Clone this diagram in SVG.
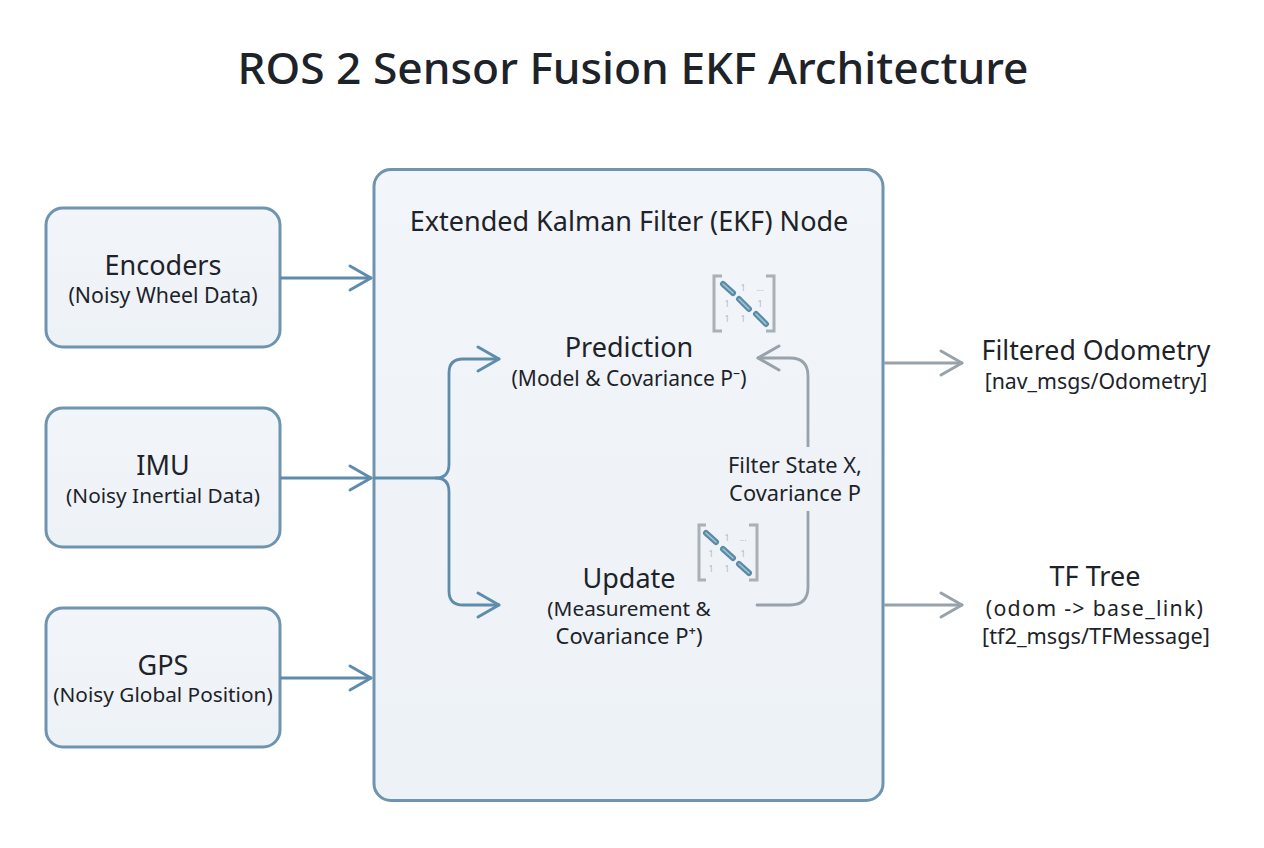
<svg xmlns="http://www.w3.org/2000/svg" width="1264" height="848" viewBox="0 0 1264 848">
<defs>
<marker id="ah" markerUnits="userSpaceOnUse" markerWidth="30" markerHeight="30" refX="23" refY="13" orient="auto" overflow="visible"><path d="M2 1 L23 13 L2 25" fill="none" stroke="context-stroke" stroke-width="3" stroke-linecap="round" stroke-linejoin="round"/></marker>
<linearGradient id="bg" x1="0" y1="0" x2="0" y2="1"><stop offset="0" stop-color="#f2f5f9"/><stop offset="1" stop-color="#edf2f7"/></linearGradient>
</defs>
<style>
text{font-family:"Noto Sans","Open Sans","Liberation Sans",sans-serif;fill:#1d2329;text-anchor:middle}
.t{font-size:27px}.s{font-size:20.8px}
.box{fill:url(#bg);stroke:#6f94af;stroke-width:3}
.b{fill:none;stroke:#5f8cab;stroke-width:2.800;stroke-linecap:round}
.g{fill:none;stroke:#98a2aa;stroke-width:2.800;stroke-linecap:round}
.br{fill:none;stroke:#a9b0b6;stroke-width:3}
.d{stroke:#5a8ca8;stroke-width:6;stroke-linecap:round}
.d2{fill:none;stroke:#a8c6d6;stroke-width:1.500;stroke-linecap:round}
.m{font-size:9px;fill:#b4bbc1}
</style>
<rect width="1264" height="848" fill="#ffffff"/>
<text x="633" y="84" font-size="44.300" font-weight="500" id="title">ROS 2 Sensor Fusion EKF Architecture</text>
<g id="ekf"><rect class="box" x="374" y="169.500" width="509" height="631" rx="17"/>
<text x="629" y="231" font-size="27">Extended Kalman Filter (EKF) Node</text></g>
<g id="encoders"><rect class="box" x="46" y="208" width="234" height="139" rx="17"/><text class="t" x="163" y="275">Encoders</text><text class="s" x="163" y="303" style="font-size:21.300px">(Noisy Wheel Data)</text></g>
<g id="imu"><rect class="box" x="46" y="408" width="234" height="139" rx="17"/><text class="t" x="163" y="475">IMU</text><text class="s" x="163" y="503">(Noisy Inertial Data)</text></g>
<g id="gps"><rect class="box" x="46" y="608" width="234" height="139" rx="17"/><text class="t" x="163" y="675">GPS</text><text class="s" x="163" y="702">(Noisy Global Position)</text></g>
<g id="prediction"><text class="t" x="629" y="357">Prediction</text><text class="s" x="629" y="386" style="font-size:21px">(Model &amp; Covariance P⁻)</text>
<path class="br" d="M722 276H714V331H722M766 276H774V331H766"/>
<path class="d" d="M723 284L733 293M739 299L749 309M756 314L766 324"/>
<path class="d2" d="M723 284L733 293M739 299L749 309M756 314L766 324"/>
<text class="m" x="743" y="291">1</text><text class="m" x="760" y="291">...</text><text class="m" x="727" y="307">1</text><text class="m" x="760" y="307">1</text><text class="m" x="727" y="322">1</text><text class="m" x="743" y="322">1</text></g>
<g id="update"><text class="t" x="629" y="588">Update</text><text class="s" x="629" y="616">(Measurement &amp;</text><text class="s" x="629" y="644" style="font-size:22px">Covariance P⁺)</text>
<path class="br" d="M706 525H699V580H706M749 525H757V580H749"/>
<path class="d" d="M706 533L716 542M723 549L733 558M739 564L749 573"/>
<path class="d2" d="M706 533L716 542M723 549L733 558M739 564L749 573"/>
<text class="m" x="727" y="541">1</text><text class="m" x="743" y="541">...</text><text class="m" x="711" y="557">1</text><text class="m" x="743" y="557">1</text><text class="m" x="711" y="572">1</text><text class="m" x="727" y="572">1</text></g>
<g id="filtered-odometry"><text class="t" x="1096" y="360" style="font-size:26.700px">Filtered Odometry</text><text class="s" x="1096" y="389" style="font-size:21.300px">[nav_msgs/Odometry]</text></g>
<g id="tf-tree"><text class="t" x="1095" y="586">TF Tree</text><text class="s" x="1095" y="616" style="font-size:21.300px;letter-spacing:1.300px">(odom -&gt; base_link)</text><text class="s" x="1096" y="644" style="font-size:21.700px">[tf2_msgs/TFMessage]</text></g>
<g id="connectors">
<path class="b" marker-end="url(#ah)" d="M281 278H371"/>
<path class="b" marker-end="url(#ah)" d="M281 478H371"/>
<path class="b" marker-end="url(#ah)" d="M281 678H371"/>
<path class="b" marker-end="url(#ah)" d="M374 478H436Q449 478 449 464V373Q449 359 463 359H499"/>
<path class="b" marker-end="url(#ah)" d="M436 478Q449 478 449 492V591Q449 605 463 605H499"/>
<path class="g" marker-end="url(#ah)" d="M757 605H790Q808 605 808 587V376Q808 358 790 358H758"/>
<rect x="722" y="447" width="146" height="64" fill="#eff3f7"/>
<text class="s" x="795" y="473" style="font-size:21.800px">Filter State X,</text><text class="s" x="795" y="501" style="font-size:21.800px">Covariance P</text>
<path class="g" marker-end="url(#ah)" d="M885 363H962"/>
<path class="g" marker-end="url(#ah)" d="M885 605H962"/>
</g>
</svg>
